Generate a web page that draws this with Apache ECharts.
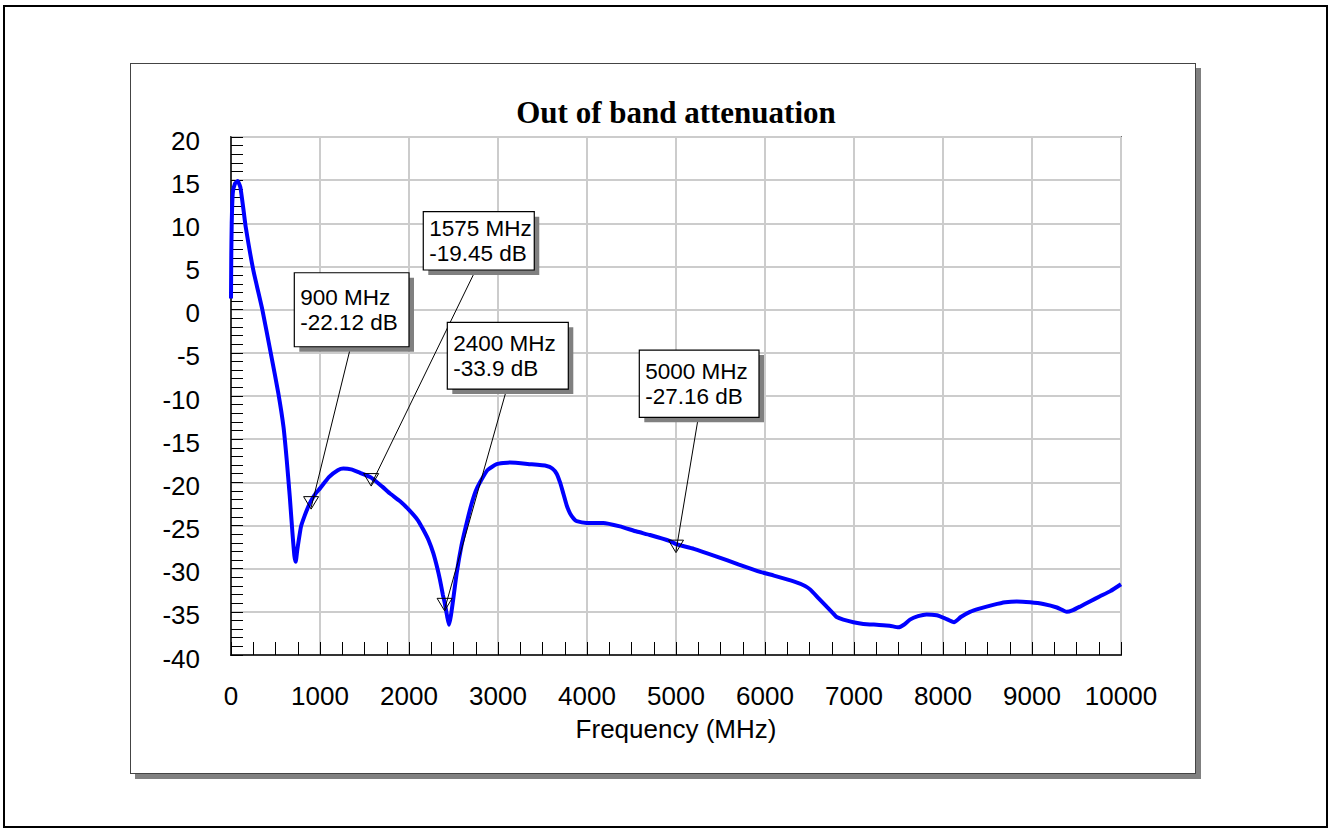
<!DOCTYPE html>
<html>
<head>
<meta charset="utf-8">
<title>Out of band attenuation</title>
<script src="https://cdn.jsdelivr.net/npm/echarts@6/dist/echarts.min.js"></script>
<style>
  html, body { margin: 0; padding: 0; background: #fff; }
  #wrap { position: relative; width: 1330px; height: 832px; overflow: hidden; background: #fff; }
  #frame { position: absolute; left: 3px; top: 5px; width: 1325px; height: 823px; box-sizing: border-box; border: 2px solid #000; }
  #panel { position: absolute; left: 130px; top: 63px; width: 1066px; height: 711px; box-sizing: border-box;
           border: 1.5px solid #444; background: #fff; box-shadow: 5px 5px 0 #808080; }
  #chart { position: absolute; left: 0; top: 0; width: 1330px; height: 832px; }
</style>
</head>
<body>
<div id="wrap">
  <div id="frame"></div>
  <div id="panel"></div>
  <div id="chart"></div>
</div>
<script>
// Measured filter response: frequency (MHz) and gain (dB)
const freqMHz = [
  0, 3, 8, 20, 45, 75, 105, 140, 165, 250, 352, 450, 532, 590, 626, 660, 690, 712, 727, 745,
  787, 830, 869, 900, 950, 1000, 1100, 1200, 1262, 1350, 1450, 1575, 1700, 1787, 1900, 2000,
  2100, 2161, 2220, 2273, 2320, 2348, 2380, 2400, 2430, 2449, 2470, 2500, 2536, 2590, 2648,
  2700, 2750, 2798, 2880, 2985, 3135, 3360, 3547, 3610, 3659, 3700, 3734, 3770, 3809, 3850,
  3884, 3996, 4183, 4370, 4558, 4708, 4933, 5000, 5200, 5457, 5700, 5955, 6100, 6330, 6450,
  6506, 6600, 6693, 6768, 6805, 6880, 6993, 7105, 7255, 7400, 7498, 7560, 7629, 7720, 7816,
  7929, 8022, 8124, 8200, 8303, 8420, 8565, 8700, 8828, 8980, 9127, 9280, 9390, 9460, 9539,
  9650, 9764, 9880, 10000
];
const gainDb = [
  1.3, 6, 10, 13.5, 14.6, 14.9, 14.2, 11.6, 9.6, 4.6, 0, -5.2, -9.7, -13.6, -17.4, -21.6, -25.8, -28.5, -29.2, -27.8,
  -25.1, -23.8, -22.8, -22.12, -21.3, -20.7, -19.4, -18.6, -18.4, -18.5, -18.9, -19.45, -20.5, -21.3, -22.2, -23.2,
  -24.4, -25.5, -26.7, -28.2, -30.0, -31.3, -33.0, -33.9, -35.6, -36.5, -35.5, -33.3, -30.5, -27.3, -24.7,
  -22.6, -21.0, -20.0, -18.6, -17.9, -17.7, -17.9, -18.1, -18.4, -19.0, -20.1, -21.3, -22.6, -23.6, -24.2,
  -24.5, -24.7, -24.7, -25.1, -25.7, -26.1, -26.8, -27.16, -27.7, -28.6, -29.5, -30.4, -30.8, -31.5, -32.0,
  -32.4, -33.4, -34.4, -35.2, -35.6, -35.9, -36.2, -36.4, -36.5, -36.6, -36.8, -36.5, -35.9, -35.5, -35.3,
  -35.4, -35.75, -36.2, -35.6, -35.0, -34.6, -34.2, -33.9, -33.8, -33.9, -34.1, -34.5, -35.0, -34.8, -34.4,
  -33.8, -33.2, -32.6, -31.8
];

// Marker readouts
const markerFreq = [900, 1575, 2400, 5000];
const markerGain = [-22.12, -19.45, -33.9, -27.16];

// Callout box placement relative to each marker (pixels)
const calloutDx = [-16.8, 52.1, 2.7, -36.7];
const calloutDy = [-227.9, -265.9, -280, -194.1];
const calloutW = [114.7, 111, 121, 119.7];
const calloutH = [74, 58.3, 66.7, 67.3];
const leaderX = [56.4, 52.4, 59.4, 59];

const sansFont = '"Liberation Sans", Arial, Helvetica, sans-serif';

function renderCallout(params, api) {
  const i = params.dataIndex;
  const f = api.value(0);
  const g = api.value(1);
  const p = api.coord([f, g]);
  const bx = p[0] + calloutDx[i];
  const by = p[1] + calloutDy[i];
  const w = calloutW[i];
  const h = calloutH[i];
  const cy = by + h / 2;
  const txt = (t, y) => ({
    type: 'text',
    style: {
      text: t, x: bx + 6, y: y, fill: '#000',
      font: '22.5px ' + sansFont,
      align: 'left', verticalAlign: 'middle',
      textAlign: 'left', textVerticalAlign: 'middle'
    }
  });
  return {
    type: 'group',
    children: [
      { type: 'line', shape: { x1: bx + leaderX[i], y1: by + h, x2: p[0], y2: p[1] + 7 },
        style: { stroke: '#000', lineWidth: 1 } },
      { type: 'polygon', shape: { points: [[p[0] - 7.5, p[1] - 4], [p[0] + 7.5, p[1] - 4], [p[0], p[1] + 8.5]] },
        style: { fill: 'rgba(0,0,0,0)', stroke: '#000', lineWidth: 1 } },
      { type: 'rect', shape: { x: bx + 5, y: by + 5, width: w, height: h },
        style: { fill: '#808080' } },
      { type: 'rect', shape: { x: bx, y: by, width: w, height: h },
        style: { fill: '#fff', stroke: '#000', lineWidth: 1.2 } },
      txt(f + ' MHz', cy - 12.5),
      txt(g + ' dB', cy + 12.5)
    ]
  };
}

const chart = echarts.init(document.getElementById('chart'), null, { renderer: 'svg', width: 1330, height: 832 });

const option = {
  animation: false,
  backgroundColor: 'transparent',
  textStyle: { fontFamily: sansFont },
  graphic: [{
    type: 'text',
    x: 676, y: 112,
    style: {
      text: 'Out of band attenuation',
      font: 'bold 31px "Liberation Serif", "Times New Roman", serif',
      fill: '#000', align: 'center', verticalAlign: 'middle'
    }
  }],
  grid: {
    left: 231, top: 137, width: 890, height: 518,
    show: true, borderColor: '#000', borderWidth: 1.5, backgroundColor: 'transparent'
  },
  xAxis: {
    type: 'value', min: 0, max: 10000, interval: 1000,
    name: 'Frequency (MHz)', nameLocation: 'middle', nameGap: 61,
    nameTextStyle: { fontSize: 26, color: '#000', fontFamily: sansFont },
    axisLine: { show: true, onZero: false, lineStyle: { color: '#000', width: 1.5 } },
    axisTick: { show: true, inside: true, length: 13, lineStyle: { color: '#000', width: 1 } },
    minorTick: { show: true, splitNumber: 4, length: 13, lineStyle: { color: '#000', width: 1 } },
    splitLine: { show: true, lineStyle: { color: '#cccccc', width: 2 } },
    axisLabel: { fontSize: 26, color: '#000', margin: 28, fontFamily: sansFont,
                 formatter: (v) => String(v) }
  },
  yAxis: {
    type: 'value', min: -40, max: 20, interval: 5,
    axisLine: { show: true, onZero: false, lineStyle: { color: '#000', width: 1.5 } },
    axisTick: { show: true, inside: true, length: 12, lineStyle: { color: '#000', width: 1 } },
    minorTick: { show: true, splitNumber: 5, length: 12, lineStyle: { color: '#000', width: 1 } },
    splitLine: { show: true, lineStyle: { color: '#cccccc', width: 2 } },
    axisLabel: {
      color: '#000', margin: 31,
      formatter: (v) => '{n|' + v + '}',
      rich: { n: { fontSize: 26, color: '#000', fontFamily: sansFont, padding: [7, 0, 0, 0] } }
    }
  },
  series: [
    {
      type: 'line',
      data: freqMHz.map((f, i) => [f, gainDb[i]]),
      showSymbol: false,
      smooth: 0.15,
      lineStyle: { color: '#0000ff', width: 4 },
      z: 3
    },
    {
      type: 'custom',
      coordinateSystem: 'cartesian2d',
      clip: false,
      data: markerFreq.map((f, i) => [f, markerGain[i]]),
      renderItem: renderCallout,
      z: 5
    }
  ]
};

chart.setOption(option);
</script>
</body>
</html>
